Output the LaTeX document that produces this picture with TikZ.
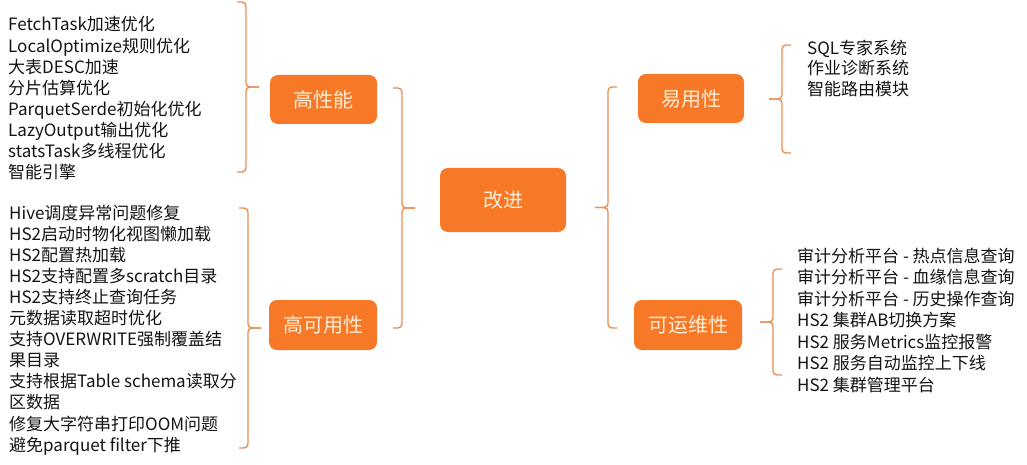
\documentclass[tikz,border=0pt]{standalone}
\usepackage{fontspec}
\setmainfont{Noto Sans CJK SC}
\usetikzlibrary{positioning,calc}
\definecolor{tangerine}{RGB}{247,120,38}
\definecolor{cream}{RGB}{255,238,215}
\definecolor{clay}{RGB}{232,142,84}
\definecolor{ink}{RGB}{20,20,20}
\tikzset{
  topic/.style={fill=tangerine,text=cream,rounded corners=8pt,inner sep=0pt,
    minimum width=#1,minimum height=49pt,font=\fontsize{20}{24}\selectfont},
  topic/.default=107pt,
  items/.style={anchor=north west,inner sep=0pt,align=left,text=ink,
    font=\fontsize{17}{#1}\selectfont},
  items/.default=21.1,
  brk/.style={draw=clay,line width=1.4pt,rounded corners=4pt},
}
% grpbrace: x, top y, bottom y, side (1 = opens left, -1 = opens right)
\newcommand{\grpbrace}[4]{%
  \draw[brk] ({#1-#4*9},#2) -- (#1,#2) -- (#1,{(#2+#3)/2}) -- ({#1+#4*13},{(#2+#3)/2});
  \draw[brk] ({#1+#4*13},{(#2+#3)/2}) -- (#1,{(#2+#3)/2}) -- (#1,#3) -- ({#1-#4*9},#3);
}

\begin{document}
\begin{tikzpicture}[x=1pt,y=-1pt]
  \useasboundingbox[fill=white] (0,0) rectangle (1027,465);

  % topics
  \node[topic=126pt,minimum height=64pt] (imp) at (503,200) {改进};
  \node[topic] (perf) at (323.5,99.5) {高性能};
  \node[topic=108pt,minimum height=50pt] (avail) at (323,325) {高可用性};
  \node[topic=106pt] (ease) at (691,98.5) {易用性};
  \node[topic=108pt,minimum height=50pt] (ops) at (688,325) {可运维性};

  % item lists
  \node[items] (perflist) at (8,16.5) {FetchTask加速优化\\LocalOptimize规则优化\\大表DESC加速\\分片估算优化\\ParquetSerde初始化优化\\LazyOutput输出优化\\statsTask多线程优化\\智能引擎};
  \node[items] (availlist) at (9,204.5) {Hive调度异常问题修复\\HS2启动时物化视图懒加载\\HS2配置热加载\\HS2支持配置多scratch目录\\HS2支持终止查询任务\\元数据读取超时优化\\支持OVERWRITE强制覆盖结\\果目录\\支持根据Table schema读取分\\区数据\\修复大字符串打印OOM问题\\避免parquet filter下推};
  \node[items=20.5] (easelist) at (807,39.5) {SQL专家系统\\作业诊断系统\\智能路由模块};
  \node[items=21.5] (opslist) at (797,247.5) {审计分析平台 - 热点信息查询\\审计分析平台 - 血缘信息查询\\审计分析平台 - 历史操作查询\\HS2 集群AB切换方案\\HS2 服务Metrics监控报警\\HS2 服务自动监控上下线\\HS2 集群管理平台};

  % braces
  \grpbrace{246}{2}{172}{1}
  \grpbrace{248}{208}{448}{1}
  \grpbrace{402}{88}{328}{1}
  \grpbrace{608}{87}{328}{-1}
  \grpbrace{782}{45}{153}{-1}
  \grpbrace{773}{269}{375}{-1}
\end{tikzpicture}
\end{document}
